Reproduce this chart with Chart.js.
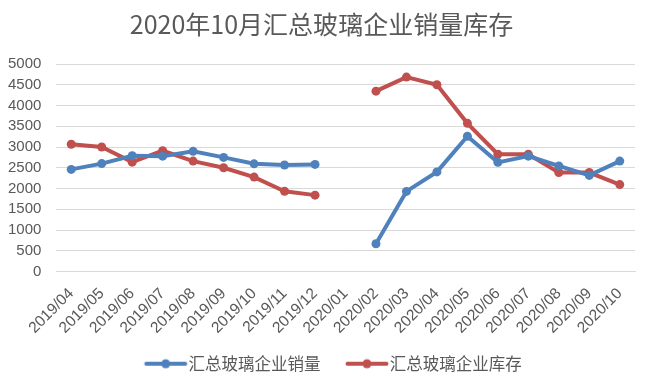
<!DOCTYPE html>
<html><head><meta charset="utf-8">
<script src="https://cdn.jsdelivr.net/npm/chart.js@4/dist/chart.umd.min.js"></script>
<style>html,body{margin:0;padding:0;background:#fff}#wrap{width:652px;height:376px}</style>
</head><body><div id="wrap"><canvas id="c" width="652" height="376"></canvas></div>
<script>
const categories = ["2019/04","2019/05","2019/06","2019/07","2019/08","2019/09","2019/10","2019/11","2019/12","2020/01","2020/02","2020/03","2020/04","2020/05","2020/06","2020/07","2020/08","2020/09","2020/10"];
const sales = [2460,2600,2790,2780,2895,2750,2595,2565,2580,null,670,1930,2400,3260,2630,2780,2545,2315,2660];
const stock = [3065,3000,2635,2910,2660,2500,2275,1935,1840,null,4345,4685,4500,3570,2825,2825,2385,2385,2095];
const seriesNames = ["汇总玻璃企业销量","汇总玻璃企业库存"];
const titleText = "2020年10月汇总玻璃企业销量库存";
const yTicks = [0,500,1000,1500,2000,2500,3000,3500,4000,4500,5000];

const colors = ["#4F81BD","#C0504D"];
const BOXW = 59;
function legendIcon(color){
  const c = document.createElement('canvas');
  c.width = 80; c.height = 12;
  const g = c.getContext('2d');
  const off = 40 - BOXW/2;
  const x1 = off + BOXW - 34, x2 = off + BOXW + 5;
  g.strokeStyle = color; g.lineWidth = 4; g.lineCap='round';
  g.beginPath(); g.moveTo(x1, 6); g.lineTo(x2, 6); g.stroke();
  g.fillStyle = color; g.beginPath(); g.arc((x1+x2)/2, 6, 4.5, 0, Math.PI*2); g.fill();
  return c;
}
const icons = colors.map(legendIcon);
const cjk = "'Noto Sans CJK SC', 'Liberation Sans', sans-serif";
const num = "'Liberation Sans', sans-serif";
new Chart(document.getElementById('c'), {
  type: 'line',
  data: {
    labels: categories,
    datasets: [
      {label: seriesNames[0], data: sales, borderColor: colors[0], backgroundColor: colors[0], borderWidth: 4, pointRadius: 4.5, pointBorderWidth: 0, pointHoverRadius: 4.5, spanGaps: false, tension: 0},
      {label: seriesNames[1], data: stock, borderColor: colors[1], backgroundColor: colors[1], borderWidth: 4, pointRadius: 4.5, pointBorderWidth: 0, pointHoverRadius: 4.5, spanGaps: false, tension: 0}
    ]
  },
  options: {
    responsive: false, animation: false,
    layout: {padding: {left: 8, right: 17, top: 9, bottom: -6}},
    plugins: {
      title: {display: true, text: titleText, color: '#595959', font: {family: cjk, size: 25, weight: 'normal'}, padding: {top: 0, bottom: 25}},
      legend: {position: 'bottom', labels: {
        color: '#595959', font: {family: cjk, size: 16.5}, usePointStyle: true, pointStyleWidth: BOXW, boxHeight: 12, padding: 2,
        generateLabels: (chart) => chart.data.datasets.map((d,i) => ({text: d.label, pointStyle: icons[i], fillStyle: colors[i], strokeStyle: colors[i], lineWidth: 0, hidden: false, datasetIndex: i, fontColor: '#595959'}))
      }},
      tooltip: {enabled: false}
    },
    scales: {
      x: {
        offset: true,
        grid: {display: false, drawTicks: false, offset: true},
        border: {color: '#d9d9d9'},
        ticks: {color: '#595959', font: {family: num, size: 15.5}, minRotation: 45, maxRotation: 45, padding: 13, autoSkip: false},
        afterFit: (axis) => { axis.paddingLeft = 0; axis.paddingRight = 0; axis.height = 82; }
      },
      y: {
        min: 0, max: 5000,
        afterBuildTicks: (ax) => { ax.ticks = yTicks.map(v => ({value: v})); },
        grid: {color: '#d9d9d9', drawTicks: false},
        border: {display: false},
        ticks: {color: '#595959', font: {family: num, size: 15}, padding: 14.6, autoSkip: false, callback: (v) => String(v)},
        afterFit: (axis) => { axis.width = 48; }
      }
    }
  }
});
</script></body></html>
